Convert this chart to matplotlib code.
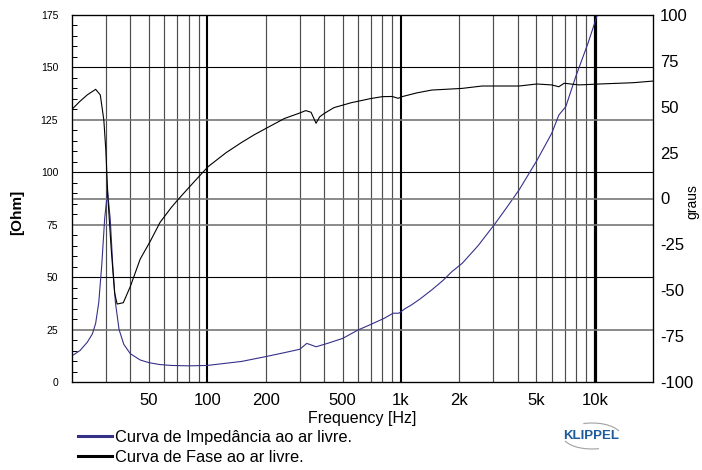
import matplotlib
matplotlib.use('Agg')
import matplotlib.pyplot as plt
from matplotlib.lines import Line2D
from matplotlib.patches import Arc

plt.rcParams['font.family'] = ['Liberation Sans', 'DejaVu Sans']
plt.rcParams['axes.unicode_minus'] = False

# curva de impedância (Ohm)
imp_freq = [20, 22, 24, 25.5, 26.5, 27.5, 28.5, 29.5, 30.5, 31.5, 32.5, 33.5,
            35, 37, 40, 45, 50, 57, 65, 80, 100, 150, 200, 250, 300, 326,
            345, 364, 420, 500, 600, 700, 820, 910, 975, 1050, 1130, 1250,
            1440, 1650, 1830, 2070, 2500, 3070, 3500, 4070, 5020, 6000, 6530,
            7090, 7980, 9230, 10400]
imp_ohm = [12.5, 15, 19, 23, 28, 38, 56, 78, 91, 78, 55, 38,
           25, 18, 13.5, 10.5, 9.2, 8.3, 7.9, 7.7, 7.9, 9.8, 12.1, 14, 15.6, 18.4,
           17.6, 16.8, 18.5, 20.8, 24.8, 27.5, 30.4, 32.8, 32.8, 35, 36.7, 39.5,
           43.9, 48.5, 52.6, 56.6, 65, 75.7, 83, 91.6, 105.5, 118.6, 127.3,
           131.3, 145.6, 161.5, 176]

# curva de fase (graus)
phase_freq = [20, 22, 24, 26.5, 28, 29.2, 29.9, 30.7, 31.9, 33.2, 34.2, 36.8,
              40, 45, 50.6, 57, 65, 70, 81.6, 92, 101, 125, 150, 175, 204, 250, 300,
              322, 343, 364, 380, 402, 450, 553, 700, 800, 900, 967, 1012,
              1200, 1440, 2065, 2620, 4070, 5020, 5990, 6530, 6950, 8300,
              10600, 15800, 20000]
phase_deg = [48.6, 53, 56.5, 59.5, 56.4, 42.8, 26.4, -0.8, -28, -51.5, -57.5, -56.8,
             -48, -33, -23.5, -13, -5, -1, 6.8, 12.8, 17.4, 25, 30.5, 34.8, 38.6, 43.6, 46.6,
             47.9, 47, 41, 44.5, 46.4, 49.5, 52.2, 54.5, 55.5, 55.6, 54.6, 55.5,
             57.5, 59.1, 60, 61.3, 61.3, 62.4, 61.9, 60.9, 62.8, 61.9,
             62.4, 63.1, 64]

ohm_ticks = [0, 25, 50, 75, 100, 125, 150, 175]
deg_ticks = [-100, -75, -50, -25, 0, 25, 50, 75, 100]
freq_ticks = [50, 100, 200, 500, 1000, 2000, 5000, 10000]
freq_labels = ['50', '100', '200', '500', '1k', '2k', '5k', '10k']
grid_minor_hz = [30, 40, 50, 60, 70, 80, 90,
                 200, 300, 400, 500, 600, 700, 800, 900,
                 2000, 3000, 4000, 5000, 6000, 7000, 8000, 9000]
grid_decade_hz = [100, 1000, 10000]
grid_ohm_dark = [50, 100, 150]
grid_ohm_grey = [25, 75, 125]

imp_color = '#35318a'

fig = plt.figure(figsize=(7.02, 4.70), dpi=100)
ax = fig.add_axes([72 / 702, 88 / 470, 581 / 702, 367 / 470])
ax.set_xscale('log')
ax.set_xlim(20, 20000)
ax.set_ylim(0, 175)

# grade
for f in grid_minor_hz:
    ax.axvline(f, color='#4d4d4d', lw=0.85, zorder=1)
for f in grid_decade_hz:
    ax.axvline(f, color='black', lw=2.3 if f == 10000 else 1.5, zorder=1)
for v in grid_ohm_dark:
    ax.axhline(v, color='black', lw=0.8, zorder=1)
for v in grid_ohm_grey:
    ax.axhline(v, color='#777777', lw=1.2, zorder=1)

ax.plot(imp_freq, imp_ohm, color=imp_color, lw=0.8, zorder=3)

ax.set_xticks(freq_ticks)
ax.set_xticklabels(freq_labels)
ax.xaxis.set_minor_locator(matplotlib.ticker.NullLocator())
ax.tick_params(axis='x', length=0, pad=8, labelsize=12)
ax.set_yticks(ohm_ticks)
ax.set_yticks(range(0, 176, 5), minor=True)
ax.tick_params(axis='y', which='major', length=0, pad=10, labelsize=7.5)
ax.tick_params(axis='y', which='minor', direction='in', length=3.5, width=0.7)
ax.set_xlabel('Frequency [Hz]', fontsize=11.5, labelpad=2)
for s in ax.spines.values():
    s.set_linewidth(0.9)

ax2 = ax.twinx()
ax2.set_ylim(-100, 100)
ax2.axhline(0, color='#777777', lw=1.2, zorder=1)
ax2.plot(phase_freq, phase_deg, color='black', lw=0.8, zorder=3)
ax2.set_yticks(deg_ticks)
ax2.tick_params(axis='y', length=0, pad=5, labelsize=12)

fig.text(17 / 702, 1 - 212 / 470, '[Ohm]', rotation=90, ha='center', va='center',
         fontsize=11, fontweight='bold')
fig.text(692 / 702, 1 - 202 / 470, 'graus', rotation=90, ha='center', va='center',
         fontsize=10)

# legenda
handles = [Line2D([], [], color=imp_color, lw=2.2),
           Line2D([], [], color='black', lw=2.2)]
labels = ['Curva de Impedância ao ar livre.', 'Curva de Fase ao ar livre.']
fig.legend(handles, labels, loc='upper left', bbox_to_anchor=(78 / 702, 1 - 430 / 470),
           frameon=False, fontsize=11.8, handlelength=2.05, handletextpad=0.2,
           labelspacing=0.3, borderpad=0, borderaxespad=0)

# logo
fig.text(591 / 702, 1 - 436 / 470, 'KLIPPEL', ha='center', va='center',
         fontsize=9.5, fontweight='bold', color='#1e5b9a')
fig.add_artist(Arc((592 / 702, 1 - 436 / 470), 58 / 702, 26 / 470, theta1=15, theta2=115,
                   transform=fig.transFigure, color='#a0a0a0', lw=0.8))
fig.add_artist(Arc((592 / 702, 1 - 436 / 470), 58 / 702, 26 / 470, theta1=195, theta2=290,
                   transform=fig.transFigure, color='#a0a0a0', lw=0.8))

fig.savefig('out.png', dpi=100)
